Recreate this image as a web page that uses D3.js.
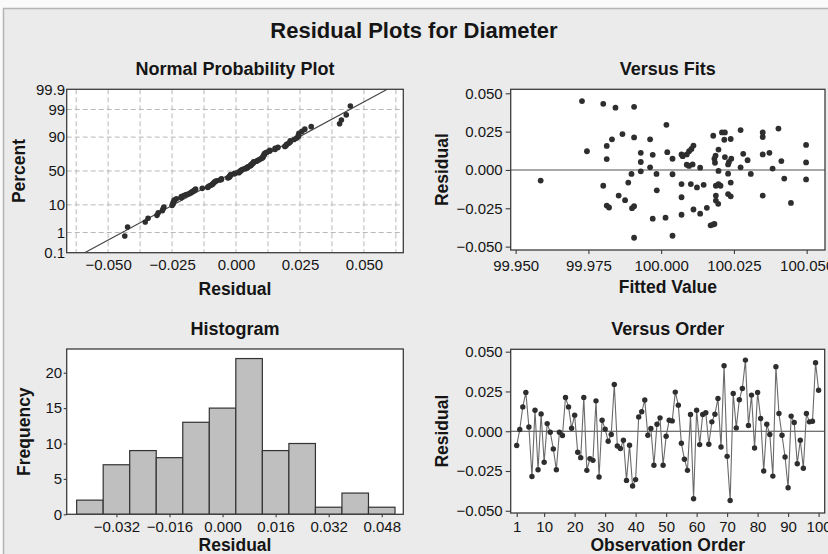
<!DOCTYPE html>
<html><head><meta charset="utf-8">
<script src="https://cdn.jsdelivr.net/npm/d3@7"></script>
<style>
body{margin:0;background:#fff;}
svg text{font-family:"Liberation Sans",Arial,Helvetica,sans-serif;fill:#151515;}
</style></head><body>
<svg id="c" width="828" height="554"></svg>
<script>
// ---------- data ----------
const residualsByOrder = [
 -0.0090, 0.0011, 0.0153, 0.0244, 0.0027,-0.0285, 0.0132,-0.0242, 0.0109,-0.0195,
  0.0048,-0.0006,-0.0111,-0.0242,-0.0006,-0.0027, 0.0212, 0.0153, 0.0019, 0.0101,
 -0.0132,-0.0166, 0.0212,-0.0246,-0.0172,-0.0183, 0.0191,-0.0288, 0.0069, 0.0013,
 -0.0063,-0.0021, 0.0294,-0.0093,-0.0109,-0.0057,-0.0309,-0.0088,-0.0344,-0.0304,
  0.0090, 0.0122, 0.0196,-0.0025, 0.0017,-0.0214, 0.0044, 0.0084,-0.0214,-0.0032,
  0.0069, 0.0065, 0.0246, 0.0164,-0.0076,-0.0176,-0.0246, 0.0105,-0.0424, 0.0132,
 -0.0084, 0.0105, 0.0116,-0.0082, 0.0059, 0.0107, 0.0206,-0.0099, 0.0412,-0.0158,
 -0.0435, 0.0237, 0.0021, 0.0198, 0.0269, 0.0447, 0.0036, 0.0227,-0.0105, 0.0244,
  0.0080,-0.0250, 0.0044,-0.0021,-0.0282, 0.0405, 0.0111,-0.0025,-0.0162,-0.0355,
  0.0095, 0.0055,-0.0204,-0.0057,-0.0233, 0.0111, 0.0059, 0.0063, 0.0431, 0.0258];

const fittedValues = [
 99.9586,99.9728,99.9745,99.9801,99.9801,99.9813,99.9813,99.9813,99.9821,99.9831,
 99.9843,99.9854,99.9867,99.9876,99.9887,99.9898,99.9900,99.9907,99.9907,99.9907,
 99.9907,99.9930,99.9930,99.9930,99.9962,99.9962,99.9971,99.9971,99.9984,99.9985,
 100.0015,100.0021,100.0018,100.0039,100.0039,100.0039,100.0070,100.0074,100.0088,100.0096,
 100.0104,100.0111,100.0088,100.0096,100.0108,100.0134,100.0070,100.0070,100.0070,100.0102,
 100.0123,100.0146,100.0111,100.0134,100.0157,100.0170,100.0178,100.0183,100.0179,100.0185,
 100.0183,100.0187,100.0197,100.0197,100.0188,100.0197,100.0204,100.0188,100.0188,100.0196,
 100.0209,100.0219,100.0217,100.0239,100.0219,100.0230,100.0233,100.0241,100.0230,100.0239,
 100.0230,100.0239,100.0273,100.0282,100.0273,100.0297,100.0308,100.0349,100.0349,100.0349,
 100.0372,100.0349,100.0383,100.0403,100.0413,100.0423,100.0446,100.0498,100.0498,100.0498];
const fitResiduals = [
 -0.0069, 0.0449, 0.0122, 0.0431,-0.0103, 0.0157, 0.0071,-0.0232,-0.0245, 0.0200,
  0.0406,-0.0167, 0.0234,-0.0197,-0.0082,-0.0026,-0.0249,-0.0236, 0.0412, 0.0212,
 -0.0442, 0.0112, 0.0052,-0.0009, 0.0200, 0.0017, 0.0099,-0.0318,-0.0026,-0.0133,
 -0.0311, 0.0116, 0.0294, 0.0073,-0.0028,-0.0429, 0.0101, 0.0090, 0.0101, 0.0122,
  0.0137, 0.0159, 0.0034, 0.0026, 0.0036, 0.0015,-0.0092,-0.0178,-0.0292,-0.0092,
 -0.0114,-0.0097,-0.0258,-0.0285,-0.0247,-0.0361,-0.0356,-0.0352, 0.0223, 0.0047,
  0.0073, 0.0094, 0.0133,-0.0006,-0.0103,-0.0092,-0.0103,-0.0167,-0.0200,-0.0221,
  0.0245, 0.0245, 0.0197, 0.0202, 0.0084, 0.0036, 0.0052, 0.0073,-0.0024,-0.0082,
 -0.0157,-0.0172, 0.0260, 0.0105, 0.0017, 0.0064,-0.0026, 0.0245, 0.0215, 0.0101,
  0.0112,-0.0167, 0.0009, 0.0270, 0.0058,-0.0056,-0.0215, 0.0163, 0.0049,-0.0062];

const histMidpoints = [-0.040,-0.032,-0.024,-0.016,-0.008,0.000,0.008,0.016,0.024,0.032,0.040,0.048];
const histCounts    = [2,7,9,8,13,15,22,9,10,1,3,1];
const histBinWidth  = 0.008;

const normXTicks   = [-0.050,-0.025,0.000,0.025,0.050];
const normXGrid    = [-0.0625,-0.05,-0.0375,-0.025,-0.0125,0,0.0125,0.025,0.0375,0.05,0.0625];
const normPctTicks = [0.1,1,10,50,90,99,99.9];
const normPctGrid  = [1,10,50,90,99];
const fitsXTicks   = [99.950,99.975,100.000,100.025,100.050];
const residTicks   = [-0.050,-0.025,0.000,0.025,0.050];
const histXTicks   = [-0.032,-0.016,0.000,0.016,0.032,0.048];
const histYTicks   = [0,5,10,15,20];
const orderTicks   = [1,10,20,30,40,50,60,70,80,90,100];

// ---------- helpers ----------
function probit(p){
 const a=[-3.969683028665376e+01,2.209460984245205e+02,-2.759285104469687e+02,1.383577518672690e+02,-3.066479806614716e+01,2.506628277459239e+00];
 const b=[-5.447609879822406e+01,1.615858368580409e+02,-1.556989798598866e+02,6.680131188771972e+01,-1.328068155288572e+01];
 const c=[-7.784894002430293e-03,-3.223964580411365e-01,-2.400758277161838e+00,-2.549671468388604e+00,4.374664141464968e+00,2.938163982698783e+00];
 const d=[7.784695709041462e-03,3.224671290700398e-01,2.445134137142996e+00,3.754408661907416e+00];
 const pl=0.02425, ph=1-pl; let q,r;
 if(p<pl){q=Math.sqrt(-2*Math.log(p));return (((((c[0]*q+c[1])*q+c[2])*q+c[3])*q+c[4])*q+c[5])/((((d[0]*q+d[1])*q+d[2])*q+d[3])*q+1);}
 if(p<=ph){q=p-0.5;r=q*q;return (((((a[0]*r+a[1])*r+a[2])*r+a[3])*r+a[4])*r+a[5])*q/(((((b[0]*r+b[1])*r+b[2])*r+b[3])*r+b[4])*r+1);}
 q=Math.sqrt(-2*Math.log(1-p));return -(((((c[0]*q+c[1])*q+c[2])*q+c[3])*q+c[4])*q+c[5])/((((d[0]*q+d[1])*q+d[2])*q+d[3])*q+1);
}

const svg = d3.select("#c");
const TICK_FS = 15, LAB_FS = 17.5, SUB_FS = 18;
const BORDER = "#3c3c3c";

// background panel
svg.append("rect").attr("x",0).attr("y",0).attr("width",828).attr("height",554).attr("fill","#fafafa");
svg.append("rect").attr("x",3.5).attr("y",8.5).attr("width",830).attr("height",560)
  .attr("fill","#ebebeb").attr("stroke","#b4b4b4").attr("stroke-width",1.5);

svg.append("text").attr("x",414).attr("y",38).attr("text-anchor","middle")
  .attr("font-size",22).attr("font-weight","bold").text("Residual Plots for Diameter");

function panel(x0,y0,x1,y1,id){
  svg.append("rect").attr("x",x0).attr("y",y0).attr("width",x1-x0).attr("height",y1-y0).attr("fill","#fff");
  svg.append("clipPath").attr("id",id).append("rect").attr("x",x0).attr("y",y0).attr("width",x1-x0).attr("height",y1-y0);
  return svg.append("g").attr("clip-path",`url(#${id})`);
}
function frame(x0,y0,x1,y1){
  svg.append("rect").attr("x",x0).attr("y",y0).attr("width",x1-x0).attr("height",y1-y0)
    .attr("fill","none").attr("stroke",BORDER).attr("stroke-width",1.3);
}
function styleAxis(g){
  g.select(".domain").remove();
  g.selectAll("text").attr("font-size",TICK_FS).attr("fill","#1a1a1a")
    .attr("font-family",'"Liberation Sans",Arial,sans-serif');
  g.selectAll("line").attr("stroke",BORDER).attr("stroke-width",1.1);
}
function titles(sub,subY,xl,xlY,yl,ylX,cx,cy){
  svg.append("text").attr("x",cx).attr("y",subY).attr("text-anchor","middle")
    .attr("font-size",SUB_FS).attr("font-weight","bold").text(sub);
  svg.append("text").attr("x",cx).attr("y",xlY).attr("text-anchor","middle")
    .attr("font-size",LAB_FS).attr("font-weight","bold").text(xl);
  svg.append("text").attr("transform",`translate(${ylX},${cy}) rotate(-90)`).attr("text-anchor","middle")
    .attr("font-size",LAB_FS).attr("font-weight","bold").text(yl);
}
const fmt3 = d3.format(".3f");

// ---------- Normal probability plot ----------
{
  const L=66.7,R=403.3,T=89.3,B=252.7;
  const x = d3.scaleLinear().domain([-0.0662,0.0654]).range([L,R]);
  const y = d3.scaleLinear().domain([probit(0.001),probit(0.999)]).range([B,T]);
  const g = panel(L,T,R,B,"cN");
  g.selectAll("line.gx").data(normXGrid).join("line")
    .attr("x1",d=>x(d)).attr("x2",d=>x(d)).attr("y1",T).attr("y2",B)
    .attr("stroke","#b8b8b8").attr("stroke-dasharray","5,3").attr("stroke-width",1);
  g.selectAll("line.gy").data(normPctGrid).join("line")
    .attr("y1",d=>y(probit(d/100))).attr("y2",d=>y(probit(d/100))).attr("x1",L).attr("x2",R)
    .attr("stroke","#b8b8b8").attr("stroke-dasharray","5,3").attr("stroke-width",1);
  const sorted = residualsByOrder.slice().sort(d3.ascending);
  const n = sorted.length;
  const mu = d3.mean(sorted), sd = d3.deviation(sorted);
  const zLo = probit(0.001), zHi = probit(0.999);
  g.append("line").attr("x1",x(mu+sd*zLo)).attr("y1",y(zLo)).attr("x2",x(mu+sd*zHi)).attr("y2",y(zHi))
    .attr("stroke","#444").attr("stroke-width",1.2);
  g.selectAll("circle").data(sorted).join("circle")
    .attr("cx",d=>x(d)).attr("cy",(d,i)=>y(probit((i+1-0.3)/(n+0.4)))).attr("r",2.8).attr("fill","#2e2e2e");
  frame(L,T,R,B);
  const ax = svg.append("g").attr("transform",`translate(0,${B})`)
    .call(d3.axisBottom(x).tickValues(normXTicks).tickSize(0).tickPadding(6.7).tickFormat(fmt3));
  styleAxis(ax);
  const yPct = d3.scaleLinear().domain(y.domain()).range(y.range());
  const ay = svg.append("g").attr("transform",`translate(${L},0)`)
    .call(d3.axisLeft(yPct).tickValues(normPctTicks.map(p=>probit(p/100))).tickSize(0).tickPadding(1.5)
      .tickFormat((d,i)=>String(normPctTicks[i])));
  styleAxis(ay);
  titles("Normal Probability Plot",74.5,"Residual",295,"Percent",25,(L+R)/2,(T+B)/2);
}

// ---------- Versus Fits ----------
{
  const L=510.7,R=825,T=89.3,B=250;
  const x = d3.scaleLinear().domain([99.9483,100.0563]).range([L,R]);
  const y = d3.scaleLinear().domain([-0.0522,0.0526]).range([B,T]);
  const g = panel(L,T,R,B,"cF");
  g.append("line").attr("x1",L).attr("x2",R).attr("y1",y(0)).attr("y2",y(0)).attr("stroke","#555").attr("stroke-width",1.1);
  g.selectAll("circle").data(fittedValues).join("circle")
    .attr("cx",d=>x(d)).attr("cy",(d,i)=>y(fitResiduals[i])).attr("r",2.9).attr("fill","#2e2e2e");
  frame(L,T,R,B);
  const ax = svg.append("g").attr("transform",`translate(0,${B})`)
    .call(d3.axisBottom(x).tickValues(fitsXTicks).tickSize(4).tickPadding(6.5).tickFormat(fmt3));
  styleAxis(ax);
  const ay = svg.append("g").attr("transform",`translate(${L},0)`)
    .call(d3.axisLeft(y).tickValues(residTicks).tickSize(5).tickPadding(3).tickFormat(fmt3));
  styleAxis(ay);
  titles("Versus Fits",74.5,"Fitted Value",293,"Residual",448,(L+R)/2,(T+B)/2);
}

// ---------- Histogram ----------
{
  const L=66.7,R=403.3,T=349,B=514.3;
  const x = d3.scaleLinear().domain([-0.047,0.0545]).range([L,R]);
  const y = d3.scaleLinear().domain([0,23.35]).range([B,T]);
  const g = panel(L,T,R,B,"cH");
  g.selectAll("rect.bar").data(histCounts).join("rect")
    .attr("x",(d,i)=>x(histMidpoints[i]-histBinWidth/2)).attr("width",(d,i)=>x(histMidpoints[i]+histBinWidth/2)-x(histMidpoints[i]-histBinWidth/2))
    .attr("y",d=>y(d)).attr("height",d=>B-y(d))
    .attr("fill","#bfbfbf").attr("stroke","#333").attr("stroke-width",1.2);
  frame(L,T,R,B);
  const ax = svg.append("g").attr("transform",`translate(0,${B})`)
    .call(d3.axisBottom(x).tickValues(histXTicks).tickSize(3).tickPadding(3.7).tickFormat(fmt3));
  styleAxis(ax);
  const ay = svg.append("g").attr("transform",`translate(${L},0)`)
    .call(d3.axisLeft(y).tickValues(histYTicks).tickSize(3).tickPadding(1.5).tickFormat(d3.format("d")));
  styleAxis(ay);
  titles("Histogram",335,"Residual",551,"Frequency",30,(L+R)/2,(T+B)/2);
}

// ---------- Versus Order ----------
{
  const L=510.7,R=824.7,T=349.3,B=513;
  const x = d3.scaleLinear().domain([-0.97,102]).range([L,R]);
  const y = d3.scaleLinear().domain([-0.0514,0.0515]).range([B,T]);
  const g = panel(L,T,R,B,"cO");
  g.append("line").attr("x1",L).attr("x2",R).attr("y1",y(0)).attr("y2",y(0)).attr("stroke","#444").attr("stroke-width",1.1);
  g.append("path").datum(residualsByOrder)
    .attr("d",d3.line().x((d,i)=>x(i+1)).y(d=>y(d)))
    .attr("fill","none").attr("stroke","#6a6a6a").attr("stroke-width",1.1);
  g.selectAll("circle").data(residualsByOrder).join("circle")
    .attr("cx",(d,i)=>x(i+1)).attr("cy",d=>y(d)).attr("r",2.7).attr("fill","#2e2e2e");
  frame(L,T,R,B);
  const ax = svg.append("g").attr("transform",`translate(0,${B})`)
    .call(d3.axisBottom(x).tickValues(orderTicks).tickSize(4).tickPadding(4).tickFormat(d3.format("d")));
  styleAxis(ax);
  const ay = svg.append("g").attr("transform",`translate(${L},0)`)
    .call(d3.axisLeft(y).tickValues(residTicks).tickSize(5).tickPadding(3).tickFormat(fmt3));
  styleAxis(ay);
  titles("Versus Order",335,"Observation Order",551,"Residual",448,(L+R)/2,(T+B)/2);
}
</script>
</body></html>
